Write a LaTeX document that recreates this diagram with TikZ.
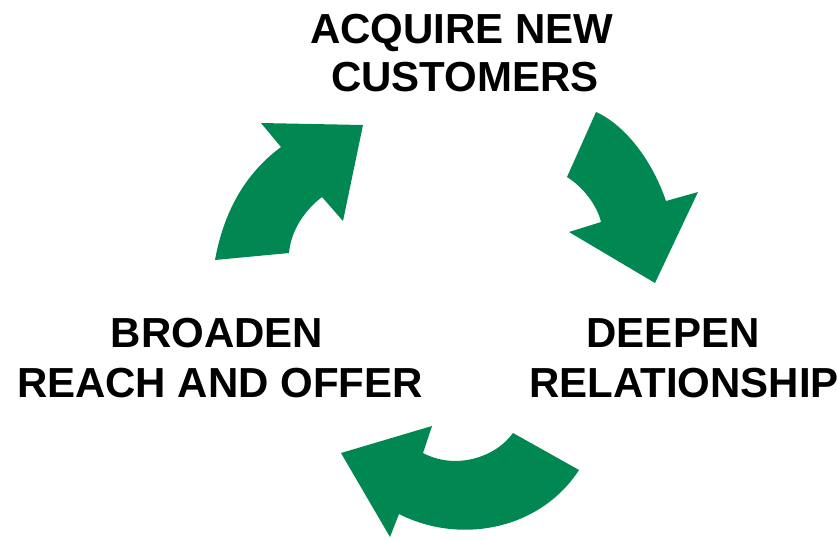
\documentclass[tikz,border=0pt]{standalone}
\usepackage{fontspec}
\setmainfont{Liberation Sans}
\definecolor{cyclegreen}{RGB}{0,135,82}
\begin{document}
\begin{tikzpicture}[x=1pt,y=-1pt,
  lbl/.style={anchor=base,inner sep=0pt,font=\fontsize{42}{48}\selectfont\bfseries},
  arrowshape/.style={fill=cyclegreen,draw=none}]
\useasboundingbox (0,0) rectangle (838,539);
% arrow 1 (upper left)
\fill[arrowshape] (215,260) .. controls (225,205) and (250,170) .. (281,147)
  -- (261,123) -- (363,125) -- (343,221) -- (322,197)
  .. controls (305,210) and (291,230) .. (289,253) -- cycle;
% arrow 2 (right)
\fill[arrowshape] (596,112) .. controls (625,125) and (652,160) .. (666,201)
  -- (698,192) -- (655,283) -- (569,232) -- (601,222)
  .. controls (597,205) and (583,187) .. (567,177) -- cycle;
% arrow 3 (bottom)
\fill[arrowshape] (513,433) -- (579,470) .. controls (540,530) and (460,545) .. (399,514)
  -- (390,537) -- (341,453) -- (432,426) -- (423,453)
  .. controls (455,470) and (495,458) .. (513,433) -- cycle;
% labels
\node[lbl] (t1a) at (462,43) {ACQUIRE NEW};
\node[lbl] (t1b) at (465,91) {CUSTOMERS};
\node[lbl] (t2a) at (673,347) {DEEPEN};
\node[lbl] (t2b) at (684,397) {RELATIONSHIP};
\node[lbl] (t3a) at (217,347) {BROADEN};
\node[lbl] (t3b) at (220,397) {REACH AND OFFER};
\end{tikzpicture}
\end{document}
